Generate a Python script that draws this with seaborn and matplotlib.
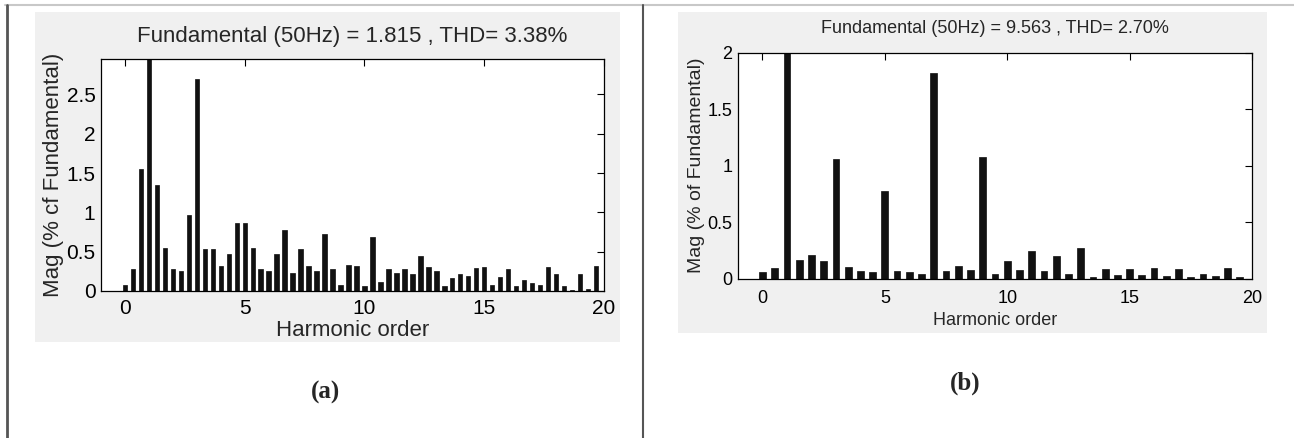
import matplotlib
import matplotlib.pyplot as plt
import numpy as np
import pandas as pd
import seaborn as sns
from matplotlib.lines import Line2D
from matplotlib.patches import Rectangle
from matplotlib.ticker import FormatStrFormatter, MultipleLocator

matplotlib.use("Agg")

# Harmonic spectrum (a): bins every 1/3 of the fundamental, fundamental = 100 %
mag_a = [
    0.07, 0.28, 1.55, 100.0, 1.35, 0.545, 0.285, 0.25, 0.97, 2.70,
    0.53, 0.53, 0.315, 0.47, 0.87, 0.87, 0.545, 0.285, 0.25, 0.47,
    0.77, 0.235, 0.53, 0.315, 0.25, 0.72, 0.285, 0.08, 0.33, 0.315,
    0.065, 0.69, 0.115, 0.28, 0.235, 0.28, 0.21, 0.44, 0.30, 0.25,
    0.065, 0.16, 0.21, 0.195, 0.29, 0.30, 0.08, 0.18, 0.285, 0.065,
    0.145, 0.10, 0.077, 0.30, 0.21, 0.065, 0.017, 0.21, 0.03, 0.315,
    0.0,
]
# Harmonic spectrum (b): bins every 1/2 of the fundamental
mag_b = [
    0.056, 0.097, 100.0, 0.162, 0.212, 0.153, 1.056, 0.106, 0.068, 0.056,
    0.78, 0.068, 0.056, 0.044, 1.823, 0.068, 0.115, 0.074, 1.08, 0.042,
    0.153, 0.074, 0.243, 0.065, 0.20, 0.044, 0.27, 0.015, 0.09, 0.03,
    0.09, 0.03, 0.097, 0.02, 0.09, 0.012, 0.044, 0.02, 0.097, 0.012,
    0.0,
]
bins_per_order_a = 3
bins_per_order_b = 2

title_a = "Fundamental (50Hz) = 1.815 , THD= 3.38%"
title_b = "Fundamental (50Hz) = 9.563 , THD= 2.70%"
ylabel_a = "Mag (% cf Fundamental)"
ylabel_b = "Mag (% of Fundamental)"
xlabel = "Harmonic order"

df_a = pd.DataFrame({"order": np.arange(len(mag_a)) / bins_per_order_a, "mag": mag_a})
df_b = pd.DataFrame({"order": np.arange(len(mag_b)) / bins_per_order_b, "mag": mag_b})

sns.set_style("white")
plt.rcParams["font.family"] = ["Liberation Sans", "DejaVu Sans"]

W, H = 1294, 438
fig = plt.figure(figsize=(W / 100, H / 100), dpi=100)
fig.patch.set_facecolor("white")

# MATLAB-style grey figure backgrounds
fig.patches.append(Rectangle((35 / W, 1 - 342 / H), 585 / W, 330 / H,
                             transform=fig.transFigure, facecolor="#f0f0f0",
                             edgecolor="none", zorder=-10))
fig.patches.append(Rectangle((678 / W, 1 - 333 / H), 589 / W, 321 / H,
                             transform=fig.transFigure, facecolor="#f0f0f0",
                             edgecolor="none", zorder=-10))

# page frame lines
fig.add_artist(Line2D([5 / W, 1], [1 - 5 / H, 1 - 5 / H], transform=fig.transFigure,
                      color="#c8c8c8", lw=1.5))
fig.add_artist(Line2D([7 / W, 7 / W], [0, 1 - 5 / H], transform=fig.transFigure,
                      color="#555555", lw=2))
fig.add_artist(Line2D([643 / W, 643 / W], [0, 1 - 5 / H], transform=fig.transFigure,
                      color="#555555", lw=1.5))

ax_a = fig.add_axes([101 / W, 1 - 291 / H, 503 / W, 232 / H])
ax_b = fig.add_axes([738 / W, 1 - 278.7 / H, 514 / W, 226 / H])


def draw(ax, df, ymax, title, ylabel, fs, tfs, yfs, pad, xpad, xlpad):
    sns.barplot(data=df, x="order", y="mag", native_scale=True, errorbar=None,
                color="#111111", saturation=1, width=0.55, edgecolor="#111111",
                linewidth=0.5, ax=ax)
    ax.set_xlim(-1, 20)
    ax.set_ylim(0, ymax)
    ax.xaxis.set_major_locator(MultipleLocator(5))
    ax.yaxis.set_major_locator(MultipleLocator(0.5))
    ax.xaxis.set_major_formatter(FormatStrFormatter("%g"))
    ax.yaxis.set_major_formatter(FormatStrFormatter("%g"))
    ax.tick_params(direction="in", length=5, width=0.8, top=True, right=True,
                   labelsize=tfs, pad=4, colors="black")
    ax.tick_params(axis="x", pad=xpad)
    for s in ax.spines.values():
        s.set_visible(True)
        s.set_color("black")
        s.set_linewidth(0.9)
    ax.set_facecolor("white")
    ax.set_title(title, fontsize=fs, pad=pad)
    ax.set_xlabel(xlabel, fontsize=fs, labelpad=xlpad)
    ax.set_ylabel(ylabel, fontsize=yfs, labelpad=2)


draw(ax_a, df_a, 2.95, title_a, ylabel_a, 16, 15, 16, 12, 6, 1)
draw(ax_b, df_b, 2.0, title_b, ylabel_b, 13, 13, 14, 14, 8, 4)

fig.text(325 / W, 1 - 392 / H, "(a)", ha="center", va="center", fontsize=18,
         fontweight="bold", family="Liberation Serif")
fig.text(965 / W, 1 - 383 / H, "(b)", ha="center", va="center", fontsize=18,
         fontweight="bold", family="Liberation Serif")

plt.savefig("out.png", dpi=100)
